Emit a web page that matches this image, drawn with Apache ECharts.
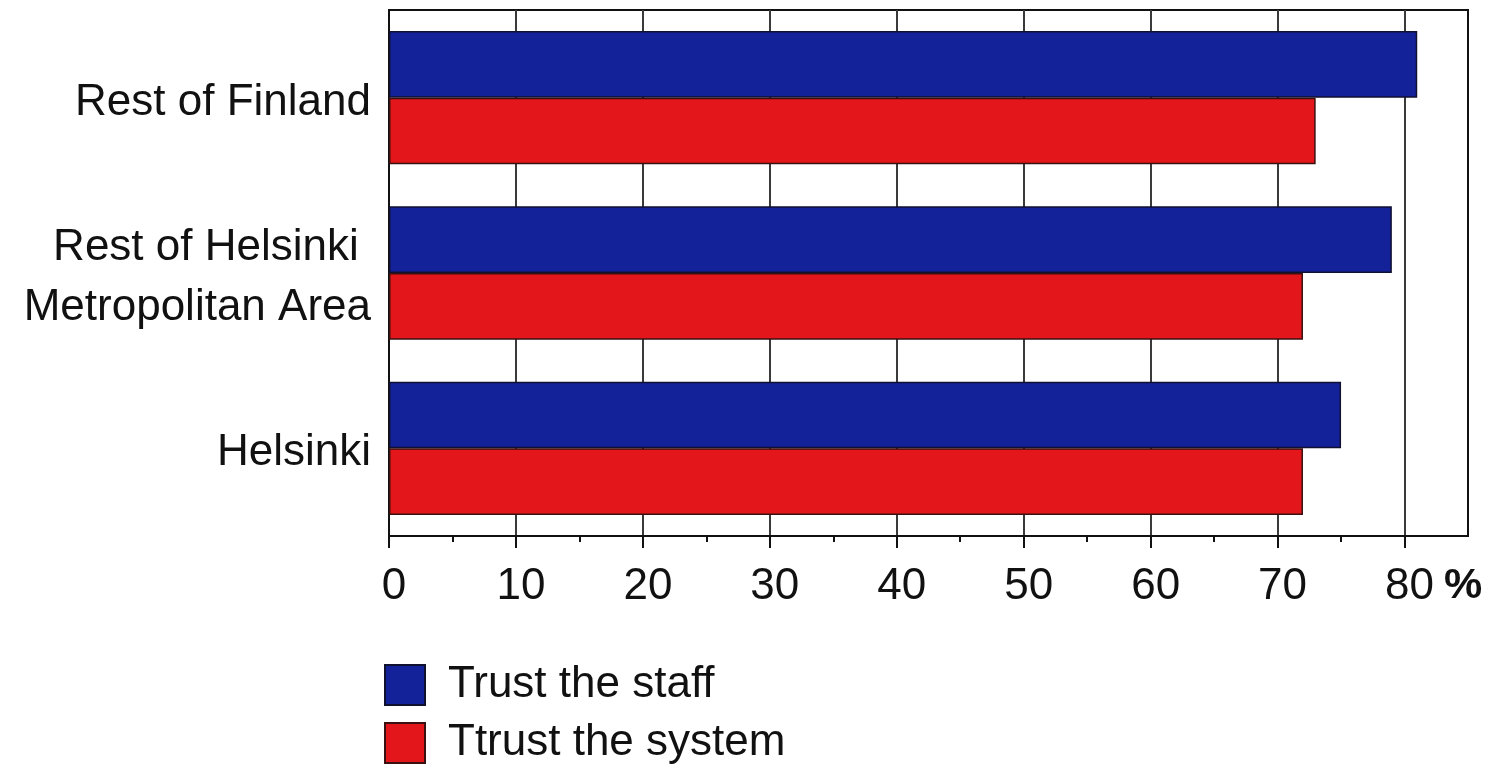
<!DOCTYPE html>
<html>
<head>
<meta charset="utf-8">
<script src="https://cdn.jsdelivr.net/npm/echarts@6/dist/echarts.min.js"></script>
<style>
  html, body { margin: 0; padding: 0; background: #fff; }
  #chart { width: 1490px; height: 770px; }
</style>
</head>
<body>
<div id="chart"></div>
<script>
// Regions, listed top to bottom
const categories = ['Rest of Finland', 'Rest of Helsinki \nMetropolitan Area', 'Helsinki'];
// Share of respondents (%)
const trustStaff = [81, 79, 75];
const trustSystem = [73, 72, 72];
// Axis ticks
const majorTicks = [0, 10, 20, 30, 40, 50, 60, 70, 80];
const minorTicks = [5, 15, 25, 35, 45, 55, 65, 75];
const axisMax = 85;
const seriesNames = ['Trust the staff', 'Ttrust the system'];

const FONT = 'Liberation Sans, Arial, sans-serif';
const INK = '#111111';

const chart = echarts.init(document.getElementById('chart'));
chart.setOption({
  animation: false,
  textStyle: { fontFamily: FONT },
  grid: {
    left: 389, right: 22, top: 10, bottom: 234,
    show: true, borderColor: INK, borderWidth: 2, backgroundColor: 'transparent'
  },
  legend: {
    orient: 'vertical',
    left: 384, top: 663,
    padding: 0,
    itemWidth: 40, itemHeight: 40, itemGap: 14,
    icon: 'rect',
    data: seriesNames,
    textStyle: { fontFamily: FONT, fontSize: 44, color: INK, lineHeight: 40, padding: [0, 0, 0, 18] }
  },
  xAxis: [{
    type: 'value', min: 0, max: axisMax, interval: 10,
    axisLine: { show: true, lineStyle: { color: INK, width: 2 } },
    axisTick: { show: true, length: 12, customValues: majorTicks, lineStyle: { color: INK, width: 2 } },
    axisLabel: {
      customValues: majorTicks.concat([axisMax]),
      margin: 29, fontSize: 44, color: INK, fontFamily: FONT,
      padding: [0, 0, 0, 10],
      formatter: v => v === axisMax ? '{p|%}' : String(v),
      rich: { p: { fontSize: 43, fontWeight: 'bold', color: INK, fontFamily: FONT, padding: [0, 20, 0, 0] } }
    },
    splitLine: { show: true, lineStyle: { color: '#3a3a3a', width: 2 } }
  }, {
    type: 'value', min: 0, max: axisMax, position: 'bottom',
    axisLine: { show: false },
    axisTick: { show: true, length: 6, customValues: minorTicks, lineStyle: { color: INK, width: 2 } },
    axisLabel: { show: false },
    splitLine: { show: false }
  }],
  yAxis: {
    type: 'category', data: categories, inverse: true,
    axisLine: { show: true, lineStyle: { color: INK, width: 2 } },
    axisTick: { show: false },
    axisLabel: {
      margin: 18, color: INK, fontFamily: FONT, fontSize: 44,
      formatter: v => v.split('\n').map(line => '{a|' + line + '}').join('\n'),
      rich: { a: { fontSize: 44, lineHeight: 60, color: INK, fontFamily: FONT, padding: [10, 0, 0, 0] } }
    }
  },
  series: [{
    name: seriesNames[0], type: 'bar', data: trustStaff,
    barGap: '0%', barCategoryGap: '24%',
    itemStyle: { color: '#14229a', borderColor: '#101030', borderWidth: 1.5 }
  }, {
    name: seriesNames[1], type: 'bar', data: trustSystem,
    barGap: '0%', barCategoryGap: '24%',
    itemStyle: { color: '#e3161b', borderColor: '#3a1010', borderWidth: 1.5 }
  }]
});
</script>
</body>
</html>
